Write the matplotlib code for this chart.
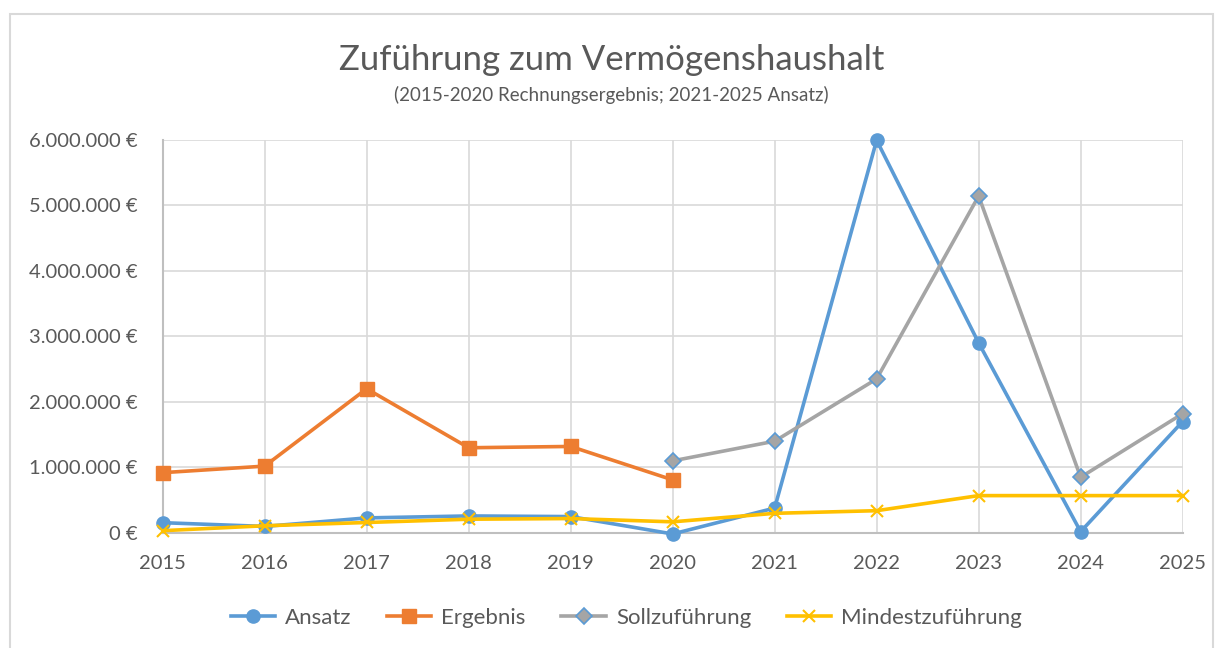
import matplotlib.pyplot as plt
from matplotlib.patches import Rectangle
from matplotlib.ticker import FuncFormatter

plt.rcParams['font.family'] = ['Lato', 'DejaVu Sans']

years = [2015, 2016, 2017, 2018, 2019, 2020, 2021, 2022, 2023, 2024, 2025]
ansatz = [157000, 100000, 230000, 260000, 250000, -15000, 380000, 5990000, 2900000, 20000, 1700000]
ergebnis_years = [2015, 2016, 2017, 2018, 2019, 2020]
ergebnis = [920000, 1020000, 2200000, 1300000, 1320000, 810000]
soll_years = [2020, 2021, 2022, 2023, 2024, 2025]
soll = [1100000, 1400000, 2350000, 5140000, 850000, 1820000]
mindest = [35000, 110000, 160000, 210000, 220000, 170000, 300000, 340000, 570000, 570000, 570000]

text_col = '#595959'

fig = plt.figure(figsize=(12.23, 6.48), dpi=100)
ax = fig.add_axes([0.133, 0.1775, 0.834, 0.607])

ax.plot(years, ansatz, color='#5B9BD5', lw=2.6, marker='o', ms=9.5, label='Ansatz', clip_on=False, zorder=3)
ax.plot(ergebnis_years, ergebnis, color='#ED7D31', lw=2.6, marker='s', ms=9.5, label='Ergebnis', clip_on=False, zorder=3)
ax.plot(soll_years, soll, color='#A5A5A5', lw=2.6, marker='D', ms=8, mfc='#A5A5A5', mec='#5B9BD5', mew=1.2,
        label='Sollzuführung', clip_on=False, zorder=3)
ax.plot(years, mindest, color='#FFC000', lw=2.6, marker='x', ms=9, mew=1.5, label='Mindestzuführung', clip_on=False, zorder=4)

ax.set_xlim(2015, 2025)
ax.set_ylim(0, 6000000)
ax.set_xticks(years)
ax.set_yticks(range(0, 6000001, 1000000))
ax.yaxis.set_major_formatter(FuncFormatter(lambda v, p: f'{int(v):,} €'.replace(',', '.')))
ax.grid(True, color='#D9D9D9', lw=1.2)
ax.set_axisbelow(True)
for s in ['top', 'right']:
    ax.spines[s].set_visible(False)
for s in ['left', 'bottom']:
    ax.spines[s].set_color('#BFBFBF')
    ax.spines[s].set_linewidth(1.5)
ax.tick_params(length=0, labelsize=14.5, colors=text_col)
ax.tick_params(axis='x', pad=16)
ax.tick_params(axis='y', pad=18)

fig.text(0.5, 0.908, 'Zuführung zum Vermögenshaushalt', ha='center', va='center', fontsize=25, color=text_col)
fig.text(0.5, 0.853, '(2015-2020 Rechnungsergebnis; 2021-2025 Ansatz)', ha='center', va='center', fontsize=13.5, color=text_col)

fig.legend(loc='center', bbox_to_anchor=(0.512, 0.046), ncol=4, frameon=False, fontsize=16,
           labelcolor=text_col, handlelength=2, columnspacing=1.6, handletextpad=0.45)

fig.patches.append(Rectangle((10 / 1223, -0.01), 1203 / 1223, 1 - 14 / 648 + 0.01, transform=fig.transFigure,
                             fill=False, ec='#D9D9D9', lw=1.5))

fig.savefig('out.png', dpi=100)
